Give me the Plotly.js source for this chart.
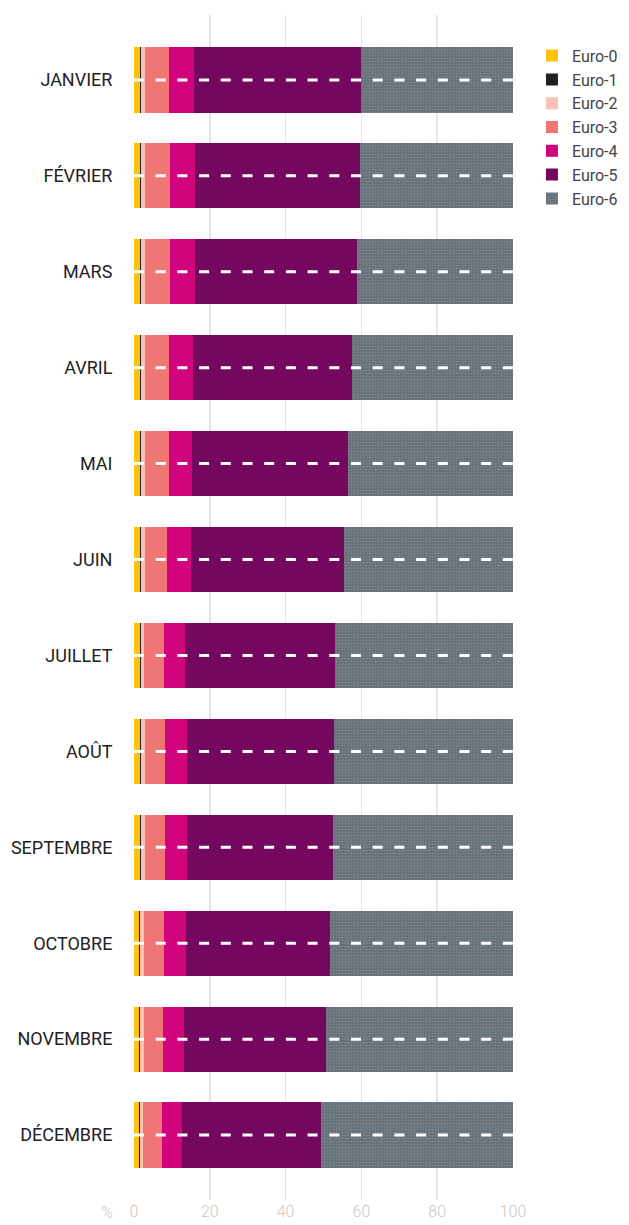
<!DOCTYPE html>
<html>
<head>
<meta charset="utf-8">
<script src="https://cdn.plot.ly/plotly-3.0.1.min.js"></script>
<style>
  html, body { margin: 0; padding: 0; background: #ffffff; }
  #chart { width: 629px; height: 1225px; }
</style>
</head>
<body>
<div id="chart"></div>
<script>
// ---- Data ----
const months = ["JANVIER", "FÉVRIER", "MARS", "AVRIL", "MAI", "JUIN",
                "JUILLET", "AOÛT", "SEPTEMBRE", "OCTOBRE", "NOVEMBRE", "DÉCEMBRE"];
const seriesNames = ["Euro-0", "Euro-1", "Euro-2", "Euro-3", "Euro-4", "Euro-5", "Euro-6"];
const euro0 = [1.5, 1.5, 1.5, 1.5, 1.5, 1.5, 1.5, 1.5, 1.5, 1.25, 1.25, 1.25];
const euro1 = [0.3, 0.3, 0.3, 0.3, 0.3, 0.3, 0.3, 0.3, 0.3, 0.3, 0.3, 0.3];
const euro2 = [1.05, 1.05, 1.05, 1.05, 1.05, 1.05, 0.8, 1.05, 1.05, 1.0, 1.0, 0.8];
const euro3 = [6.35, 6.6, 6.6, 6.35, 6.35, 5.8, 5.3, 5.3, 5.3, 5.3, 5.05, 5.0];
const euro4 = [6.6, 6.6, 6.6, 6.3, 6.05, 6.3, 5.55, 5.8, 5.8, 5.8, 5.5, 5.25];
const euro5 = [44.0, 43.5, 42.75, 41.9, 41.2, 40.35, 39.55, 38.8, 38.5, 37.95, 37.5, 36.7];
const euro6 = [40.2, 40.45, 41.2, 42.6, 43.55, 44.7, 47.0, 47.25, 47.55, 48.4, 49.4, 50.75];
const xTicks = [0, 20, 40, 60, 80, 100];

// ---- Styles ----
const colors = ["#ffc20e", "#231f20", "#f9c0b5", "#f07575", "#d2047d", "#74075e", "#6d7479"];
const allSeries = [euro0, euro1, euro2, euro3, euro4, euro5, euro6];

const traces = allSeries.map((vals, i) => {
  const t = {
    type: "bar",
    orientation: "h",
    name: seriesNames[i],
    x: vals,
    y: months,
    marker: { color: colors[i], line: { width: 0 } },
    hoverinfo: "skip"
  };
  if (i === 6) {
    t.marker.pattern = { shape: ".", bgcolor: "#67717a", fgcolor: "#808b90", size: 3, solidity: 0.25, fillmode: "replace" };
  }
  return t;
});

// white dashed road center lines, one per month, from 0 to 100
months.forEach(m => {
  traces.push({
    type: "scatter",
    mode: "lines",
    x: [xTicks[0], xTicks[xTicks.length - 1]],
    y: [m, m],
    line: { color: "#ffffff", width: 3, dash: "10px,11.7px" },
    showlegend: false,
    hoverinfo: "skip"
  });
});

const layout = {
  width: 629,
  height: 1225,
  margin: { l: 134, r: 116, t: 15, b: 25, autoexpand: false },
  paper_bgcolor: "#ffffff",
  plot_bgcolor: "#ffffff",
  barmode: "stack",
  bargap: 0.32,
  showlegend: true,
  hovermode: false,
  font: { family: "Roboto, 'Liberation Sans', sans-serif" },
  xaxis: {
    range: [0, 100],
    tickvals: xTicks,
    ticktext: xTicks.map(String),
    showgrid: true,
    gridcolor: "#e6e6e6",
    gridwidth: 1.5,
    zeroline: false,
    showline: false,
    ticks: "",
    tickfont: { family: "Roboto", size: 16, color: "#c8c8c8", weight: 300 },
    fixedrange: true
  },
  yaxis: {
    type: "category",
    categoryorder: "array",
    categoryarray: months,
    range: [11.677, -0.677],
    showgrid: false,
    zeroline: false,
    showline: false,
    ticks: "outside",
    ticklen: 17,
    tickcolor: "rgba(0,0,0,0)",
    tickfont: { family: "Roboto", size: 18, color: "#222222" },
    fixedrange: true
  },
  legend: {
    x: 1.05,
    xanchor: "left",
    y: 0.98,
    yanchor: "top",
    font: { family: "Roboto", size: 16, color: "#444444" },
    traceorder: "normal",
    itemwidth: 30,
    tracegroupgap: 0,
    bgcolor: "rgba(0,0,0,0)"
  },
  annotations: [{
    text: "%",
    xref: "paper", yref: "paper",
    x: -0.05, y: 0,
    xanchor: "right", yanchor: "top",
    yshift: -1,
    showarrow: false,
    font: { family: "Roboto", size: 16, color: "#c8c8c8", weight: 300 }
  }]
};

Plotly.newPlot("chart", traces, layout, { displayModeBar: false, staticPlot: true });
</script>
</body>
</html>
